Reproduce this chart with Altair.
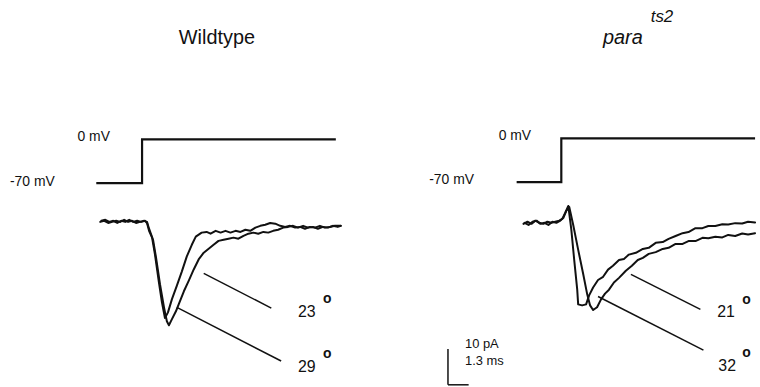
import altair as alt
import pandas as pd

FONT = "Liberation Sans"
INK = "#111111"

# ---------------- data (time in ms from step onset, current in pA, voltage in mV) -------------
# Wildtype, 29 deg (faster trace)
wt29_t = [-2.56, -2.31, -2.06, -1.81, -1.56, -1.31, -1.06, -0.81, -0.56, -0.31, -0.06, 0.19, 0.31,
          0.44, 0.63, 0.81, 1.06, 1.25, 1.44,
          1.63, 1.88, 2.19, 2.5, 2.81, 3.13, 3.38,
          3.75, 4.06, 4.31, 4.63, 4.94, 5.25, 5.56, 5.88, 6.19, 6.5, 6.81, 7.13, 7.44, 7.75, 8.06,
          8.38, 8.69, 9.0, 9.31, 9.63, 9.94, 10.25, 10.56, 10.88, 11.19, 11.5, 11.81, 12.13, 12.5]
wt29_i = [0, 0.3, -0.3, 0, -0.6, 0, -0.3, 0.3, -0.3, 0, -0.3, 0, -0.6,
          -2.8, -4.7, -9.4, -17.2, -22.8, -27.2,
          -25.6, -21.9, -18.1, -14.2, -10.0, -6.7, -4.4,
          -3.3, -3.1, -3.6, -2.8, -3.3, -2.8, -3.3, -2.8, -3.1, -2.5, -2.8, -1.9, -1.4, -1.1, -0.6,
          -0.8, -1.4, -1.7, -1.4, -1.9, -1.7, -2.2, -1.7, -1.9, -1.4, -1.9, -1.7, -1.4, -1.4]
# Wildtype, 23 deg (slower trace)
wt23_t = [-2.63, -2.38, -2.13, -1.88, -1.63, -1.38, -1.13, -0.88, -0.63, -0.38, -0.13, 0.13, 0.31,
          0.44, 0.69, 0.88, 1.13, 1.38, 1.56, 1.69,
          1.88, 2.13, 2.31, 2.63, 2.94, 3.25, 3.56, 3.88, 4.19, 4.5, 4.81, 5.13, 5.44, 5.75, 6.06,
          6.38, 6.69, 7.0, 7.31, 7.63, 7.94, 8.25, 8.56, 8.88, 9.19, 9.5, 9.81, 10.13, 10.44, 10.75,
          11.06, 11.38, 11.69, 12.0, 12.31, 12.5]
wt23_i = [-0.3, 0, -0.6, -0.3, 0, -0.3, 0.3, -0.3, 0, -0.6, -0.3, 0, -0.3,
          -2.2, -5.3, -10.3, -17.8, -24.2, -28.1, -29.2,
          -27.5, -25.3, -23.3, -19.7, -16.7, -13.6, -10.8, -8.9, -7.8, -6.7, -5.6, -5.3, -5.0, -4.7,
          -5.0, -4.2, -3.6, -3.3, -3.6, -3.1, -3.3, -2.8, -2.5, -1.9, -1.7, -1.4, -1.9, -1.4, -1.9,
          -1.7, -2.2, -1.7, -1.9, -1.4, -1.7, -1.4]

# para ts2, 32 deg (faster trace)
ts32_t = [-2.38, -2.13, -1.88, -1.63, -1.38, -1.13, -0.88, -0.63, -0.38, -0.13,
          0.06, 0.25, 0.44, 0.63, 0.81, 1.0, 1.06, 1.31, 1.56,
          1.75, 2.0, 2.31, 2.63, 2.94, 3.25, 3.63, 3.94, 4.25, 4.69, 5.13, 5.5, 5.94, 6.38, 6.75,
          7.19, 7.63, 8.0, 8.44, 8.88, 9.25, 9.69, 10.13, 10.5, 10.94, 11.38, 11.75, 12.19]
ts32_i = [-0.3, 0.3, -0.3, 0.6, 0, -0.3, 0.3, 0, 0.3, 0.6,
          1.1, 2.8, 4.7, -1.9, -10.3, -18.6, -22.8, -23.1, -22.8,
          -20.3, -18.1, -16.0, -15.1, -13.1, -12.0, -10.4, -10.1, -8.9, -8.4, -7.3, -7.0, -5.6,
          -5.4, -4.5, -3.7, -2.9, -2.6, -1.5, -1.5, -0.9, -0.9, -0.4, -0.5, -0.1, -0.2, 0.3, 0.1]
# para ts2, 21 deg (slower trace)
ts21_t = [-2.31, -2.06, -1.81, -1.56, -1.31, -1.06, -0.81, -0.56, -0.31, -0.06,
          0.13, 0.31, 0.5, 0.75, 1.06, 1.38, 1.63, 1.81, 2.0,
          2.25, 2.5, 2.75, 3.0, 3.31, 3.63, 4.06, 4.44, 4.81, 5.13, 5.5, 5.94, 6.38, 6.75, 7.19,
          7.63, 8.0, 8.44, 8.88, 9.25, 9.69, 10.13, 10.5, 10.94, 11.38, 11.75, 12.19]
ts21_i = [0, -0.6, 0.3, 0.6, -0.3, 0, -0.6, 0.3, 0, 0.6,
          1.4, 3.3, 4.4, -0.6, -7.5, -14.4, -20.0, -23.1, -24.4,
          -23.6, -21.4, -19.8, -18.7, -16.7, -15.4, -13.4, -12.0, -10.4, -9.8, -8.7, -8.2, -7.3,
          -7.0, -5.9, -5.9, -5.1, -5.1, -4.2, -4.3, -3.9, -4.1, -3.4, -3.7, -3.0, -3.3, -2.9]

# voltage command: -70 mV -> 0 mV step
step_wt_t = [-2.88, 0, 0, 12.19]
step_ts_t = [-2.81, 0, 0, 12.19]
step_v = [-70, -70, 0, 0]
volt_labels = ["0 mV", "-70 mV"]

# temperature labels (deg C) and their leader lines (trace point -> label)
wt_temps = ["23", "29"]
ts_temps = ["21", "32"]
wt_lead_t, wt_lead_i, wt_lead_t2, wt_lead_i2 = [3.88, 2.19], [-14.7, -24.2], [8.13, 8.75], [-24.4, -39.2]
ts_lead_t, ts_lead_i, ts_lead_t2, ts_lead_i2 = [4.38, 2.31], [-14.4, -20.6], [8.75, 8.94], [-24.2, -35.6]

# scale bar
bar_pA = 10
bar_ms = 1.3


# ---------------- helpers -------------------------------------------------------------------
def trace_df(pairs):
    rows = []
    for name, ts, vs in pairs:
        for k, (t, v) in enumerate(zip(ts, vs)):
            rows.append({"trace": name, "t": t, "I": v, "k": k})
    return pd.DataFrame(rows)


def panel(traces, step_t, xdom, idom, vdom, temps, lead, lab_t, lab_i, deg_t, deg_i,
          vlab_t, vlab_v, titles, extra=()):
    X = alt.X("t:Q", scale=alt.Scale(domain=xdom, nice=False, zero=False), axis=None)
    YI = lambda f: alt.Y(f, scale=alt.Scale(domain=idom, nice=False, zero=False), axis=None)
    YV = lambda f: alt.Y(f, scale=alt.Scale(domain=vdom, nice=False, zero=False), axis=None)

    cur = alt.Chart(trace_df(traces)).mark_line(
        color=INK, strokeWidth=2, strokeJoin="round", strokeCap="round"
    ).encode(x=X, y=YI("I:Q"), detail="trace:N", order="k:Q")

    step_df = pd.DataFrame({"t": step_t, "V": step_v, "k": list(range(len(step_t)))})
    step = alt.Chart(step_df).mark_line(color=INK, strokeWidth=2.2).encode(
        x=X, y=YV("V:Q"), order="k:Q")

    vl_df = pd.DataFrame({"t": vlab_t, "V": vlab_v, "label": volt_labels})
    vlab = alt.Chart(vl_df).mark_text(
        align="left", baseline="middle", font=FONT, fontSize=14, color=INK
    ).encode(x=X, y=YV("V:Q"), text="label:N")

    ld = pd.DataFrame({"t": lead[0], "I": lead[1], "t2": lead[2], "I2": lead[3]})
    leaders = alt.Chart(ld).mark_rule(color=INK, strokeWidth=1.5).encode(
        x=X, y=YI("I:Q"), x2="t2:Q", y2="I2:Q")

    lab_df = pd.DataFrame({"t": lab_t, "I": lab_i, "label": temps})
    labs = alt.Chart(lab_df).mark_text(
        align="left", baseline="alphabetic", font=FONT, fontSize=16, color=INK
    ).encode(x=X, y=YI("I:Q"), text="label:N")

    deg_df = pd.DataFrame({"t": deg_t, "I": deg_i, "label": ["o", "o"]})
    degs = alt.Chart(deg_df).mark_text(
        align="left", baseline="middle", font=FONT, fontSize=14, fontWeight="bold", color=INK
    ).encode(x=X, y=YI("I:Q"), text="label:N")

    layers = [step, cur, vlab, leaders, labs, degs] + list(extra) + list(titles)
    ch = alt.layer(*layers).resolve_scale(y="independent")
    return ch.properties(width=380, height=387)


def extras_scalebar(xdom, idom):
    X = alt.X("t:Q", scale=alt.Scale(domain=xdom, nice=False, zero=False), axis=None)
    Y = alt.Y("I:Q", scale=alt.Scale(domain=idom, nice=False, zero=False), axis=None)
    t0, i0 = -7.13, -45.3
    bars = pd.DataFrame({"t": [t0, t0], "I": [i0, i0], "t2": [t0, t0 + bar_ms], "I2": [i0 + bar_pA, i0]})
    rules = alt.Chart(bars).mark_rule(color=INK, strokeWidth=1.5).encode(
        x=X, y=Y, x2="t2:Q", y2="I2:Q")
    txt = pd.DataFrame({"t": [-6.06, -6.06], "I": [-33.9, -38.6],
                        "label": [f"{bar_pA} pA", f"{bar_ms} ms"]})
    texts = alt.Chart(txt).mark_text(
        align="left", baseline="middle", font=FONT, fontSize=13, color=INK
    ).encode(x=X, y=Y, text="label:N")
    return [rules, texts]


def title_text(label, px, py, size, style="normal"):
    return alt.Chart(pd.DataFrame({"label": [label]})).mark_text(
        align="left", baseline="alphabetic", font=FONT, fontSize=size, fontStyle=style, color=INK
    ).encode(x=alt.value(px), y=alt.value(py), text="label:N")


wt_xdom, wt_idom, wt_vdom = [-8.9375, 14.8125], [-46.11, 61.39], [-394.5, 221.1]
ts_xdom, ts_idom, ts_vdom = [-11.5625, 12.1875], [-45.56, 61.94], [-396.1, 219.5]

left = panel(
    [("29", wt29_t, wt29_i), ("23", wt23_t, wt23_i)], step_wt_t,
    wt_xdom, wt_idom, wt_vdom, wt_temps,
    (wt_lead_t, wt_lead_i, wt_lead_t2, wt_lead_i2),
    [9.81, 9.81], [-26.9, -42.2], [11.38, 11.38], [-21.9, -37.2],
    [-4.06, -8.31], [3, -68],
    [title_text("Wildtype", 180, 43, 20)],
)

right = panel(
    [("32", ts32_t, ts32_i), ("21", ts21_t, ts21_i)], step_ts_t,
    ts_xdom, ts_idom, ts_vdom, ts_temps,
    (ts_lead_t, ts_lead_i, ts_lead_t2, ts_lead_i2),
    [9.81, 9.88], [-26.4, -41.4], [11.38, 11.38], [-21.7, -36.4],
    [-3.94, -8.31], [3, -66],
    [title_text("para", 227, 43, 20, "italic"), title_text("ts2", 275, 21, 17, "italic")],
    extra=extras_scalebar(ts_xdom, ts_idom),
)

chart = alt.hconcat(left, right, spacing=0).properties(
    padding=0, background="white"
).configure_view(strokeWidth=0)

chart.save("out.html", embed_options={"renderer": "svg", "actions": False})
